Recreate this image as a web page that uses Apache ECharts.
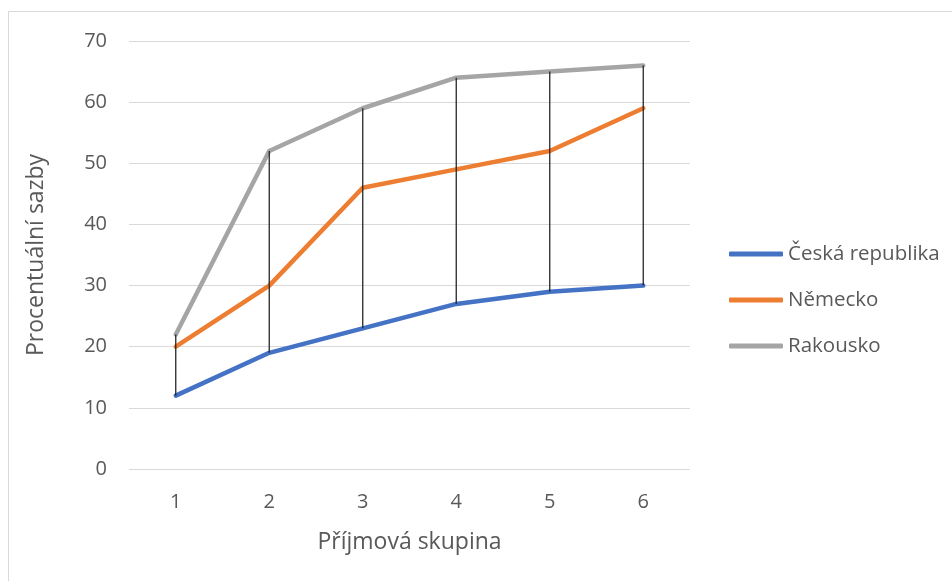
<!DOCTYPE html>
<html><head><meta charset="utf-8">
<script src="https://cdn.jsdelivr.net/npm/echarts@6/dist/echarts.min.js"></script>
<style>html,body{margin:0;padding:0;background:#fff}#c{width:952px;height:581px}</style>
</head><body><div id="c"></div>
<script>
const categories = ['1','2','3','4','5','6'];
const cz = [12, 19, 23, 27, 29, 30];
const de = [20, 30, 46, 49, 52, 59];
const at = [22, 52, 59, 64, 65, 66];
const seriesNames = ['Česká republika','Německo','Rakousko'];
const colors = ['#4472C4','#ED7D31','#A5A5A5'];

const hiLo = categories.map((c,i)=>{
  const v=[cz[i],de[i],at[i]];
  return [i, Math.min(...v), Math.max(...v)];
});
const font = '"Open Sans", "Liberation Sans", sans-serif';
const chart = echarts.init(document.getElementById('c'), null, {renderer:'canvas'});
chart.setOption({
  animation:false,
  graphic:[{type:'rect',shape:{x:8.5,y:11.5,width:1000,height:1000},style:{fill:'none',stroke:'#d9d9d9',lineWidth:1},z:-10}],
  grid:{left:129,right:262,top:41,bottom:112},
  legend:{
    orient:'vertical', left:729, top:241, padding:0,
    itemWidth:54, itemHeight:5, itemGap:20, icon:'roundRect', itemTextGap:4,
    textStyle:{fontFamily:font,fontSize:20.5,color:'#595959',lineHeight:26},
    data:seriesNames
  },
  xAxis:{
    type:'category', data:categories, boundaryGap:true,
    axisLine:{show:false}, axisTick:{show:false},
    axisLabel:{fontFamily:font,fontSize:20,color:'#595959',margin:23},
    name:'Příjmová skupina', nameLocation:'middle', nameGap:62,
    nameTextStyle:{fontFamily:font,fontSize:23,color:'#595959'}
  },
  yAxis:{
    type:'value', min:0, max:70, interval:10,
    axisLine:{show:false}, axisTick:{show:false},
    splitLine:{lineStyle:{color:'#d9d9d9',width:1}},
    axisLabel:{fontFamily:font,fontSize:20,color:'#595959',margin:22},
    name:'Procentuální sazby', nameLocation:'middle', nameGap:81,
    nameTextStyle:{fontFamily:font,fontSize:23,color:'#595959'}
  },
  series:[
    ...[cz,de,at].map((d,k)=>({
      type:'line', name:seriesNames[k], data:d, symbol:'none',
      lineStyle:{color:colors[k],width:4.5,cap:'round',join:'round'},
      itemStyle:{color:colors[k]}, z:2
    })),
    {
      type:'custom', name:'hilo', data:hiLo, z:3, silent:true,
      renderItem:function(params, api){
        const p1=api.coord([api.value(0),api.value(1)]);
        const p2=api.coord([api.value(0),api.value(2)]);
        return {type:'line',shape:{x1:p1[0],y1:p1[1],x2:p2[0],y2:p2[1]},style:{stroke:'#262626',lineWidth:1.3}};
      },
      encode:{x:0,y:[1,2]}
    }
  ]
});
</script></body></html>
